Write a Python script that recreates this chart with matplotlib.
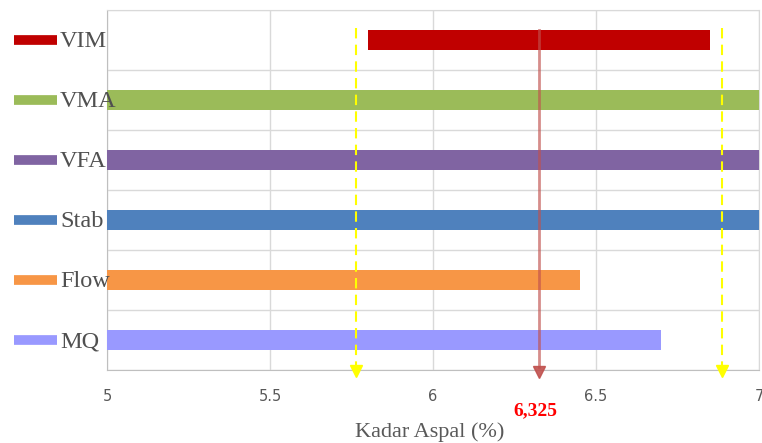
import matplotlib.pyplot as plt
import matplotlib.transforms as mtransforms

# data
categories = ["VIM", "VMA", "VFA", "Stab", "Flow", "MQ"]
bar_start = [5.8, 5, 5, 5, 5, 5]
bar_end = [6.85, 7, 7, 7, 6.45, 6.70]
colors = ["#C00000", "#9BBB59", "#8064A2", "#4F81BD", "#F79646", "#9999FF"]
range_lo = 5.765
range_hi = 6.885
optimum = 6.325
optimum_label = "6,325"
xticks = [5, 5.5, 6, 6.5, 7]
xtick_labels = ["5", "5.5", "6", "6.5", "7"]

serif = ["Liberation Serif", "DejaVu Serif"]

fig = plt.figure(figsize=(7.62, 4.43), dpi=100)
ax = fig.add_axes([107 / 762, 1 - 370 / 443, 652 / 762, 360 / 443])

ypos = list(range(len(categories)))
widths = [e - s for s, e in zip(bar_start, bar_end)]
ax.barh(ypos, widths, left=bar_start, height=0.33, color=colors, zorder=3)

ax.set_xlim(5, 7)
ax.set_ylim(len(categories) - 0.5, -0.5)

# grid
ax.set_xticks(xticks)
ax.set_xticklabels(xtick_labels, fontsize=10.5, color="#595959")
ax.set_yticks([])
ax.set_yticks([i + 0.5 for i in range(-1, len(categories))], minor=True)
ax.tick_params(axis="x", length=0, pad=14)
ax.tick_params(axis="y", which="both", length=0)
ax.grid(axis="x", color="#D9D9D9", lw=1, zorder=0)
ax.grid(axis="y", which="minor", color="#D9D9D9", lw=1, zorder=0)
for side in ["top", "right"]:
    ax.spines[side].set_color("#D9D9D9")
for side in ["left", "bottom"]:
    ax.spines[side].set_color("#BFBFBF")

# legend-like labels on the left
trans = mtransforms.blended_transform_factory(ax.transAxes, ax.transData)
for i, (cat, col) in enumerate(zip(categories, colors)):
    ax.plot([-93 / 652, -50 / 652], [i, i], color=col, lw=7, transform=trans,
            clip_on=False, solid_capstyle="butt")
    ax.text(-47 / 652, i + 0.03, cat, transform=trans, fontsize=17.5,
            family=serif, color="#505050", ha="left", va="center", zorder=5)

# yellow range lines
for xv in [range_lo, range_hi]:
    ax.plot([xv, xv], [-0.2, 5.45], color="#FFFF00", lw=1.5, ls=(0, (5, 3)),
            zorder=4, clip_on=False)
    ax.plot([xv], [5.52], marker="v", color="#FFFF00", markersize=9,
            zorder=4, clip_on=False)

# optimum line
ax.plot([optimum, optimum], [-0.17, 5.45], color="#C0504D", alpha=0.65, lw=2,
        zorder=4, clip_on=False)
ax.plot([optimum], [5.54], marker="v", color="#C0504D", alpha=0.9,
        markersize=9, zorder=4, clip_on=False)

tx = mtransforms.blended_transform_factory(ax.transData, ax.transAxes)
ax.text(optimum - 0.01, -0.112, optimum_label, transform=tx, color="red",
        fontsize=14, fontweight="bold", family=serif, ha="center", va="center")

ax.set_xlabel("Kadar Aspal (%)", fontsize=16, family=serif, color="#595959")
ax.xaxis.set_label_coords((430 - 107) / 652, -(432 - 370) / 360)
ax.xaxis.label.set_va("center")

fig.savefig("out.png", dpi=100)
